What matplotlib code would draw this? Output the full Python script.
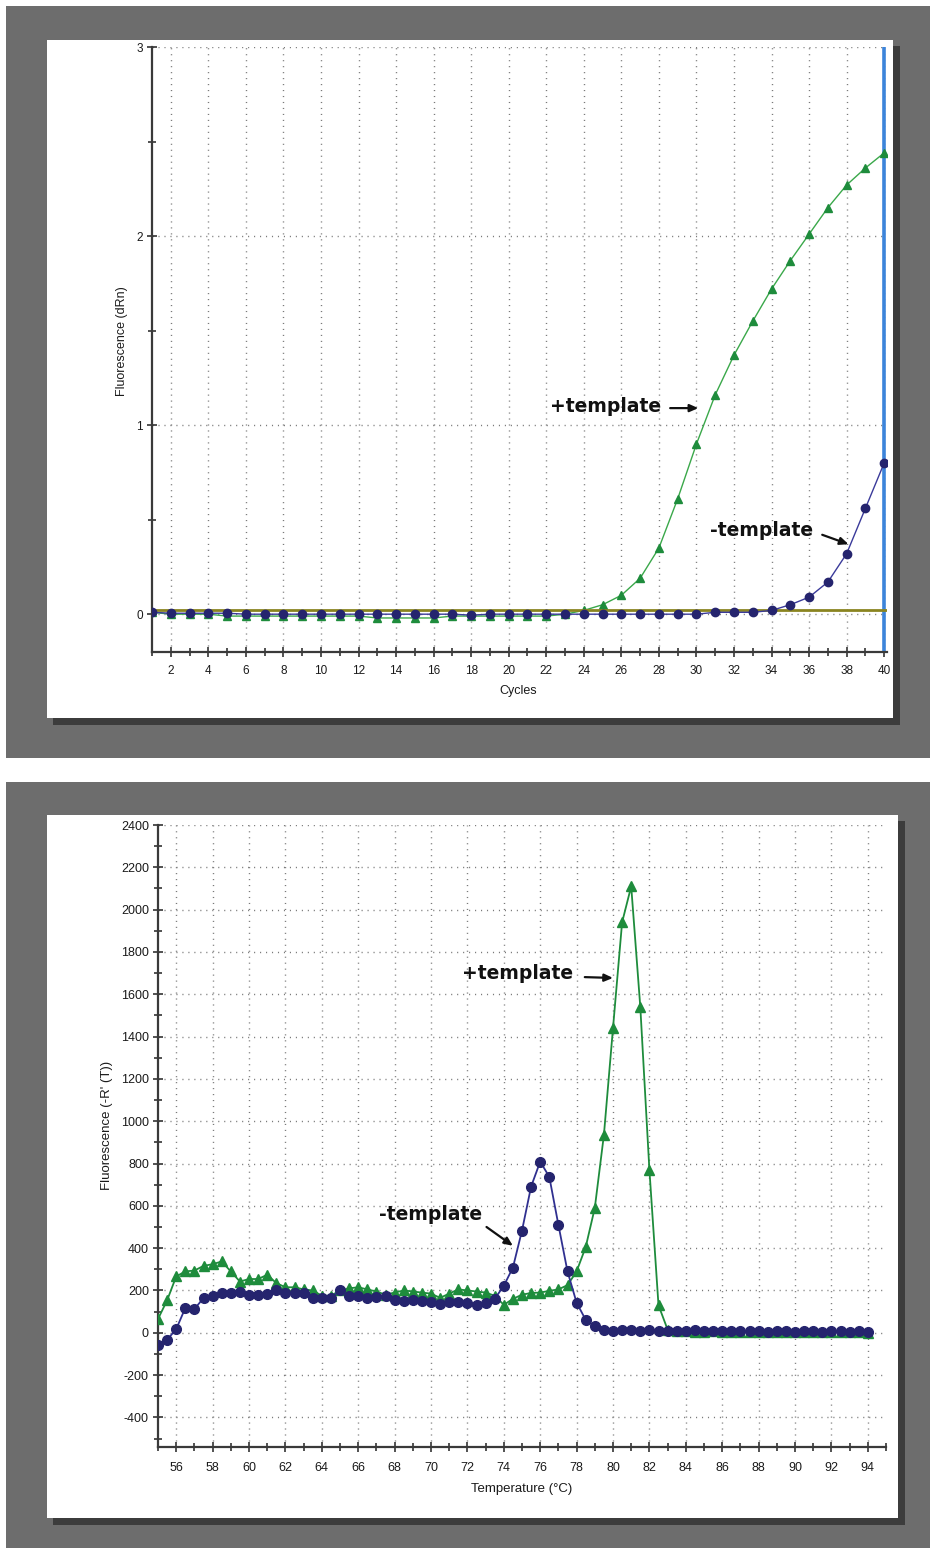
import numpy as np
import matplotlib
matplotlib.use("Agg")
import matplotlib.pyplot as plt
from matplotlib.patches import Rectangle
from matplotlib.ticker import MultipleLocator

plt.rcParams["axes.unicode_minus"] = False

# ---------------- data ----------------
cycles = list(range(1, 41))
plus_amp = [0.01, 0.0, 0.0, 0.0, -0.01, -0.01, -0.01, -0.01, -0.01, -0.01,
            -0.01, -0.01, -0.02, -0.02, -0.02, -0.02, -0.01, -0.01, -0.01, -0.01,
            -0.01, -0.01, 0.0, 0.02, 0.05, 0.10, 0.19, 0.35, 0.61, 0.90,
            1.16, 1.37, 1.55, 1.72, 1.87, 2.01, 2.15, 2.27, 2.36, 2.44]
minus_amp = [0.01, 0.005, 0.005, 0.005, 0.005, 0.0, 0.0, 0.0, 0.0, 0.0,
             0.0, 0.0, 0.0, 0.0, 0.0, 0.0, 0.0, -0.005, 0.0, 0.0,
             0.0, 0.0, 0.0, 0.0, 0.0, 0.0, 0.0, 0.0, 0.0, 0.0,
             0.01, 0.01, 0.01, 0.02, 0.05, 0.09, 0.17, 0.32, 0.56, 0.80]
threshold = 0.02

temps = [55 + 0.5 * i for i in range(79)]
plus_melt = [65, 153, 266, 290, 294, 316, 324, 337, 290, 242,      # 55-59.5
             254, 254, 274, 235, 215, 215, 205, 200, 175, 175,     # 60-64.5
             200, 210, 215, 205, 195, 180, 190, 200, 195, 190,     # 65-69.5
             185, 165, 185, 205, 200, 195, 190, 175, 132, 160,     # 70-74.5
             180, 188, 190, 198, 205, 225, 290, 405, 590, 935,     # 75-79.5
             1440, 1940, 2110, 1540, 770, 130, 15, 8, 6, 5,        # 80-84.5
             5, 6, 4, 3, 5, 4, 3, 4, 5, 4,                         # 85-89.5
             3, 2, 4, 3, 4, 2, 3, 2, 0]                            # 90-94
minus_melt = [-57, -33, 17, 117, 112, 164, 175, 190, 190, 195,     # 55-59.5
              180, 180, 185, 203, 190, 190, 188, 164, 164, 165,    # 60-64.5
              200, 175, 175, 165, 170, 175, 155, 150, 155, 150,    # 65-69.5
              145, 135, 145, 145, 140, 130, 140, 160, 222, 308,    # 70-74.5
              483, 691, 809, 737, 510, 290, 142, 61, 30, 15,       # 75-79.5
              10, 12, 15, 10, 15, 10, 10, 8, 10, 12,               # 80-84.5
              10, 8, 10, 8, 6, 8, 6, 5, 6, 8,                      # 85-89.5
              5, 6, 8, 5, 6, 8, 5, 6, 5]                           # 90-94

# ---------------- layout ----------------
W, H = 932, 1553
fig = plt.figure(figsize=(W / 100, H / 100), dpi=100)
fig.patch.set_facecolor("white")

def frac(x0, y0, x1, y1):
    return (x0 / W, 1 - y1 / H, (x1 - x0) / W, (y1 - y0) / H)

def rect(x0, y0, x1, y1, color, z):
    l, b, w, h = frac(x0, y0, x1, y1)
    fig.add_artist(Rectangle((l, b), w, h, transform=fig.transFigure,
                             facecolor=color, edgecolor="none", zorder=z))

GRAY = "#6d6d6d"
SHADOW = "#3c3c3c"
# top frame
rect(6, 6, 930, 758, GRAY, -30)
rect(53, 46, 900, 725, SHADOW, -25)
rect(47, 40, 893, 718, "white", -20)
# bottom frame
rect(6, 782, 930, 1548, GRAY, -30)
rect(53, 821, 905, 1525, SHADOW, -25)
rect(47, 815, 898, 1518, "white", -20)

TICKFONT = "Liberation Sans"
GREEN_L = "#3aa84a"
GREEN = "#1e8c3c"
BLUE = "#25246e"
GRID_KW = dict(color="#7a7a7a", linewidth=1.0, linestyle=(0, (0.8, 3.5)))

def style_axes(ax, fs):
    ax.set_facecolor("none")
    for s in ("top", "right"):
        ax.spines[s].set_visible(False)
    for s in ("left", "bottom"):
        ax.spines[s].set_color("#3a3a3a")
        ax.spines[s].set_linewidth(1.6)
    ax.tick_params(which="both", direction="inout", color="#222222",
                   width=1.1, labelsize=fs, labelcolor="#1a1a1a")
    ax.tick_params(which="major", length=7)
    ax.tick_params(which="minor", length=6)
    for lab in ax.get_xticklabels() + ax.get_yticklabels():
        lab.set_fontfamily(TICKFONT)
    ax.grid(True, which="major", **GRID_KW)
    ax.set_axisbelow(True)

# ---------------- top: amplification ----------------
ax1 = fig.add_axes(frac(152, 47, 887, 652))
ax1.set_xlim(1, 40.15)
ax1.set_ylim(-0.2, 3.0)
ax1.xaxis.set_major_locator(MultipleLocator(2))
ax1.xaxis.set_minor_locator(MultipleLocator(1))
ax1.yaxis.set_major_locator(MultipleLocator(1))
ax1.yaxis.set_minor_locator(MultipleLocator(0.5))
ax1.plot(cycles, plus_amp, color=GREEN_L, lw=1.0, marker="^", ms=6,
         mfc=GREEN, mec=GREEN, zorder=3)
ax1.axhline(threshold, color="#8a8420", lw=2.0, zorder=4)
ax1.axvline(40, color="#3c84da", lw=2.6, zorder=2)
ax1.plot(cycles, minus_amp, color="#3a3a9a", lw=1.0, marker="o", ms=6,
         mfc=BLUE, mec=BLUE, zorder=5)
style_axes(ax1, 8.5)
ax1.tick_params(axis="x", pad=6)
ax1.tick_params(axis="y", pad=3)

ANN = dict(fontsize=13.5, fontweight="bold", family="DejaVu Sans",
           color="#111111", ha="center", va="center")
ARR = dict(arrowstyle="-|>,head_length=0.5,head_width=0.22", color="#111111",
           lw=1.6, shrinkA=0, shrinkB=0)
ax1.text(25.15, 1.10, "+template", **ANN)
ax1.annotate("", xy=(30.1, 1.09), xytext=(28.6, 1.09), arrowprops=ARR)
ax1.text(33.45, 0.44, "-template", **ANN)
ax1.annotate("", xy=(38.1, 0.37), xytext=(36.7, 0.42), arrowprops=ARR)

fig.text(518 / W, 1 - 691 / H, "Cycles", fontsize=9, family=TICKFONT,
         color="#1a1a1a", ha="center", va="center")
fig.text(122 / W, 1 - 341 / H, "Fluorescence (dRn)", fontsize=9,
         family=TICKFONT, color="#1a1a1a", ha="center", va="center",
         rotation=90)

# ---------------- bottom: melt curve ----------------
ax2 = fig.add_axes(frac(158, 825, 886, 1447))
ax2.set_xlim(55, 95)
ax2.set_ylim(-540, 2400)
ax2.xaxis.set_major_locator(MultipleLocator(2))
ax2.xaxis.set_minor_locator(MultipleLocator(1))
ax2.yaxis.set_major_locator(MultipleLocator(200))
ax2.yaxis.set_minor_locator(MultipleLocator(100))
ax2.plot(temps, plus_melt, color=GREEN, lw=1.3, marker="^", ms=7,
         mfc=GREEN, mec=GREEN, zorder=3)
ax2.plot(temps, minus_melt, color="#303090", lw=1.3, marker="o", ms=7,
         mfc=BLUE, mec=BLUE, zorder=4)
style_axes(ax2, 9)
ax2.tick_params(axis="x", pad=7)
ax2.tick_params(axis="y", pad=3)

ax2.text(74.73, 1700, "+template", **ANN)
ax2.annotate("", xy=(80.0, 1677), xytext=(78.45, 1681), arrowprops=ARR)
ax2.text(69.95, 557, "-template", **ANN)
ax2.annotate("", xy=(74.5, 411), xytext=(73.05, 500), arrowprops=ARR)

fig.text(522 / W, 1 - 1489 / H, "Temperature (\u00b0C)", fontsize=9.5,
         family=TICKFONT, color="#1a1a1a", ha="center", va="center")
fig.text(107 / W, 1 - 1125 / H, "Fluorescence (-R' (T))", fontsize=9.5,
         family=TICKFONT, color="#1a1a1a", ha="center", va="center",
         rotation=90)

fig.savefig("out.png", dpi=100, facecolor="white")
